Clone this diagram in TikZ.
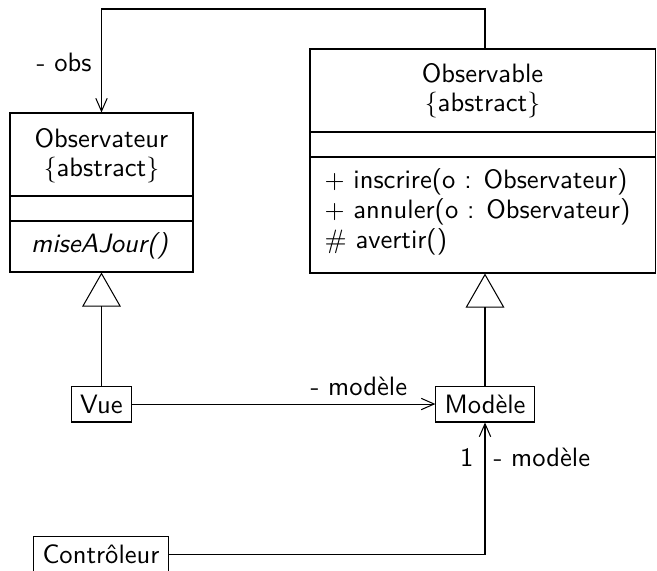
\documentclass[tikz,border=0pt]{standalone}
\usepackage{fontspec}
\usetikzlibrary{arrows.meta,fit}
\renewcommand{\familydefault}{\sfdefault}
\begin{document}
\begin{tikzpicture}[x=0.3875pt,y=-0.3875pt, line width=0.4pt, font=\sffamily\fontsize{10.3}{12}\selectfont,
  cls/.style={draw, inner sep=0pt},
  txt/.style={inner sep=0pt, anchor=base},
  small/.style={draw, inner sep=0.3333em},
  assoc/.style={draw, -{Straight Barb[length=5pt,width=4.4pt]}},
  inherit/.style={draw, -{Triangle[open,length=13.2pt,width=15pt]}}]
\clip (0,0) rectangle (657,570);
\useasboundingbox (0,0) rectangle (657,570);
% Observateur
\node[cls, fit={(10,113) (193,272)}] (obsvr) {};
\draw (obsvr.west |- 0,196) -- (obsvr.east |- 0,196);
\draw (obsvr.west |- 0,221) -- (obsvr.east |- 0,221);
\node[txt] (t1) at (101.5,147) {Observateur};
\node[txt] (t2) at (101.5,176) {$\{$abstract$\}$};
\node[txt] (t3) at (100,252) {\textit{miseAJour()}};
% Observable
\node[cls, fit={(310,49) (655,273)}] (obsable) {};
\draw (obsable.west |- 0,132) -- (obsable.east |- 0,132);
\draw (obsable.west |- 0,157) -- (obsable.east |- 0,157);
\node[txt] (t4) at (482.5,82) {Observable};
\node[txt] (t5) at (482.5,111) {$\{$abstract$\}$};
\node[txt, anchor=base west] (m1) at (324,188.5) {$+$ inscrire(o : Observateur)};
\node[txt, anchor=base west] (m2) at (324,218.5) {$+$ annuler(o : Observateur)};
\node[txt, anchor=base west] (m3) at (324,248.5) {$\#$ avertir()};
% small classes
\node[small] (vue) at (101.5,404) {Vue};
\node[small] (modele) at (485,404) {Modèle};
\node[small] (ctrl) at (101,554.5) {Contrôleur};
% connectors
\coordinate (bend) at (300,9);
\draw[assoc] (obsable.north -| modele.north) |- (bend) -| (obsvr.north);
\draw[inherit] (vue.north) -- (obsvr.south);
\draw[inherit] (modele.north) -- (obsable.south -| modele.north);
\draw[assoc] (vue.east) -- (modele.west);
\draw[assoc] (ctrl.east) -| (modele.south);
% labels
\node[txt, anchor=base east] (lobs) at (92,71) {- obs};
\node[txt, anchor=base west] (lm1) at (310,395) {- modèle};
\node[txt, anchor=base east] (l1) at (474,466) {1};
\node[txt, anchor=base west] (lm2) at (493,466) {- modèle};
\end{tikzpicture}
\end{document}
